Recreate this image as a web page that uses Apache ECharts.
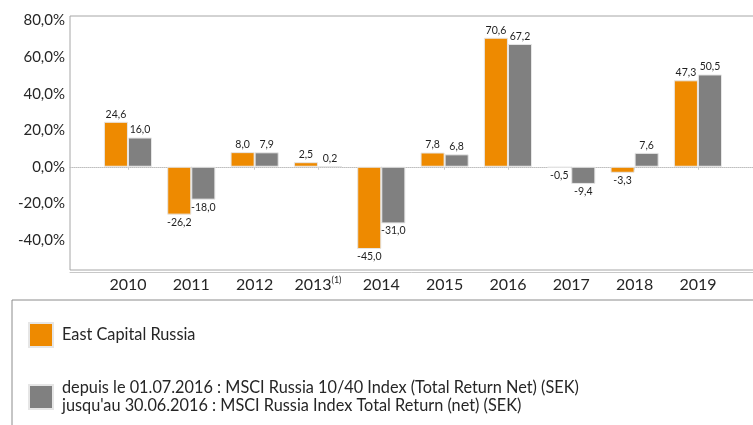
<!DOCTYPE html>
<html>
<head>
<meta charset="utf-8">
<script src="https://cdn.jsdelivr.net/npm/echarts@6/dist/echarts.min.js"></script>
<style>
html, body { margin: 0; padding: 0; background: #fff; }
#chart { width: 753px; height: 425px; }
</style>
</head>
<body>
<div id="chart"></div>
<script>
// données du graphique (rendement annuel en %)
var years = ['2010', '2011', '2012', '2013', '2014', '2015', '2016', '2017', '2018', '2019'];
var fundValues = [24.6, -26.2, 8.0, 2.5, -45.0, 7.8, 70.6, -0.5, -3.3, 47.3];
var indexValues = [16.0, -18.0, 7.9, 0.2, -31.0, 6.8, 67.2, -9.4, 7.6, 50.5];
var yTicks = [-40, -20, 0, 20, 40, 60, 80];
var footnoteYear = '2013';
var fundName = 'East Capital Russia';
var indexName = "depuis le 01.07.2016 : MSCI Russia 10/40 Index (Total Return Net) (SEK)\njusqu'au 30.06.2016 : MSCI Russia Index Total Return (net) (SEK)";

var yMin = -56.5;
var yMax = 82.5;
var font = 'Lato';

function fmt(v) {
    return v.toFixed(1).replace('.', ',');
}

function barData(list) {
    return list.map(function (v) {
        return {
            value: v,
            label: { position: v < 0 ? 'bottom' : 'top' }
        };
    });
}

var chart = echarts.init(document.getElementById('chart'));

var labelStyle = {
    show: true,
    distance: 2,
    fontFamily: font,
    fontSize: 10.5,
    color: '#1f1f1f',
    formatter: function (p) { return fmt(p.value); }
};

var option = {
    animation: false,
    grid: [
        // barres
        { left: 96.3, width: 633.3, top: 16, bottom: 155, outerBoundsMode: 'none' },
        // cadre du graphique (bord droit hors image)
        { left: 70, width: 700, top: 16, bottom: 155, outerBoundsMode: 'none', show: true, borderColor: '#a6a6a6', borderWidth: 1, backgroundColor: 'transparent' },
        // cadre de la légende (bords droit et bas hors image)
        { left: 12, width: 760, top: 300, height: 200, outerBoundsMode: 'none', show: true, borderColor: '#8c8c8c', borderWidth: 1, backgroundColor: 'transparent' }
    ],
    xAxis: [
        {
            gridIndex: 0,
            type: 'category',
            data: years,
            offset: 2,
            axisLine: { show: false },
            axisTick: { show: true, alignWithLabel: true, length: 3, lineStyle: { color: '#c8c8c8' } },
            axisLabel: {
                interval: 0,
                margin: 4,
                fontFamily: font,
                fontSize: 16,
                lineHeight: 18,
                color: '#262626',
                formatter: function (v) {
                    return v === footnoteYear ? v + '{sup|(1)}' : v;
                },
                rich: {
                    sup: { fontFamily: font, fontSize: 9, lineHeight: 10, verticalAlign: 'top', color: '#262626' }
                }
            }
        },
        {
            gridIndex: 1,
            type: 'value',
            min: 0,
            max: 1,
            position: 'bottom',
            offset: 2,
            axisLine: { show: true, onZero: false, lineStyle: { color: '#c8c8c8' } },
            axisTick: { show: false },
            axisLabel: { show: false },
            splitLine: { show: false }
        },
        {
            gridIndex: 1,
            type: 'value',
            min: 0,
            max: 1,
            position: 'top',
            axisLine: { show: true, onZero: true, lineStyle: { color: '#bfbfbf', type: 'dotted', width: 1 } },
            axisTick: { show: false },
            axisLabel: { show: false },
            splitLine: { show: false }
        }
    ],
    yAxis: [
        {
            gridIndex: 0,
            type: 'value',
            min: yMin,
            max: yMax,
            show: false
        },
        {
            gridIndex: 1,
            type: 'value',
            min: yMin,
            max: yMax,
            axisLine: { show: false, onZero: false },
            axisTick: { show: false },
            splitLine: { show: false },
            axisLabel: {
                customValues: yTicks,
                margin: 5,
                fontFamily: font,
                fontSize: 15,
                color: '#262626',
                formatter: function (v) { return fmt(v) + '%'; }
            }
        }
    ],
    legend: {
        orient: 'vertical',
        left: 28,
        top: 322,
        padding: 0,
        itemWidth: 24,
        itemHeight: 24,
        itemGap: 31,
        icon: 'rect',
        selectedMode: false,
        textStyle: {
            fontFamily: font,
            fontSize: 16.3,
            lineHeight: 18,
            color: '#262626',
            padding: [0, 0, 0, 4]
        },
        data: [fundName, indexName]
    },
    series: [
        {
            name: fundName,
            type: 'bar',
            xAxisIndex: 0,
            yAxisIndex: 0,
            barGap: 0,
            barCategoryGap: '24%',
            data: barData(fundValues),
            itemStyle: { color: '#ee8a00', borderColor: '#e6e6e6', borderWidth: 1 },
            label: labelStyle
        },
        {
            name: indexName,
            type: 'bar',
            xAxisIndex: 0,
            yAxisIndex: 0,
            barGap: 0,
            barCategoryGap: '24%',
            data: barData(indexValues),
            itemStyle: { color: '#808080', borderColor: '#e6e6e6', borderWidth: 1 },
            label: labelStyle
        }
    ]
};

chart.setOption(option);
</script>
</body>
</html>
